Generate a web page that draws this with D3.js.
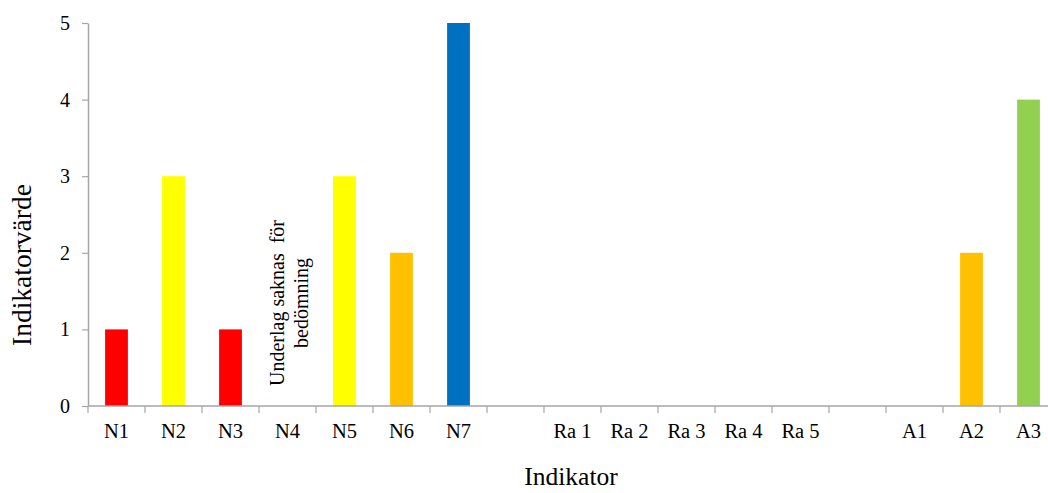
<!DOCTYPE html>
<html>
<head>
<meta charset="utf-8">
<script src="https://cdn.jsdelivr.net/npm/d3@7"></script>
<style>
  html, body { margin: 0; padding: 0; background: #fff; overflow: hidden; }
  svg { display: block; }
  text { font-family: "Liberation Serif", "Times New Roman", serif; fill: #000; }
</style>
</head>
<body>
<svg id="chart" width="1048" height="493"></svg>
<script>
const categories = ["N1","N2","N3","N4","N5","N6","N7","","Ra 1","Ra 2","Ra 3","Ra 4","Ra 5","","A1","A2","A3"];
const values     = [1, 3, 1, null, 3, 2, 5, null, null, null, null, null, null, null, null, 2, 4];
const barColors  = ["#FF0000","#FFFF00","#FF0000",null,"#FFFF00","#FFC000","#0070C0",null,null,null,null,null,null,null,null,"#FFC000","#92D050"];
const yTicks     = [0, 1, 2, 3, 4, 5];
const noteLines  = ["Underlag saknas  för", "bedömning"];
const noteIndex  = 3;

const svg = d3.select("#chart");
const mLeft = 88, mRight = 1057, mTop = 23, mBottom = 406;

const x = d3.scaleBand()
  .domain(d3.range(categories.length))
  .range([mLeft, mRight])
  .paddingInner(0.6)
  .paddingOuter(0.3);

const y = d3.scaleLinear().domain([0, 5]).range([mBottom, mTop]);

// bars
svg.append("g").selectAll("rect")
  .data(values.map((v, i) => ({v, i})).filter(d => d.v != null))
  .join("rect")
  .attr("x", d => x(d.i))
  .attr("width", x.bandwidth())
  .attr("y", d => y(d.v))
  .attr("height", d => y(0) - y(d.v))
  .attr("fill", d => barColors[d.i]);

// y axis
const yAxis = svg.append("g")
  .attr("transform", `translate(${mLeft},0)`)
  .call(d3.axisLeft(y).tickValues(yTicks).tickFormat(d3.format("d")).tickSize(6).tickSizeOuter(0).tickPadding(12));
yAxis.select(".domain").attr("stroke", "#a6a6a6").attr("stroke-width", 1.5);
yAxis.selectAll(".tick line").attr("stroke", "#a6a6a6").attr("stroke-width", 1.2);
yAxis.selectAll(".tick text").attr("font-size", 20).attr("font-family", "Liberation Serif, serif").attr("fill", "#000");

// x axis
const step = x.step();
const xAxisG = svg.append("g").attr("transform", `translate(0,${mBottom})`);
xAxisG.append("line")
  .attr("x1", mLeft).attr("x2", mRight)
  .attr("stroke", "#a6a6a6").attr("stroke-width", 1.5);
xAxisG.selectAll("line.tk")
  .data(d3.range(categories.length + 1))
  .join("line")
  .attr("class", "tk")
  .attr("x1", i => mLeft + i * step).attr("x2", i => mLeft + i * step)
  .attr("y1", 0).attr("y2", 7)
  .attr("stroke", "#a6a6a6").attr("stroke-width", 1.2);
xAxisG.selectAll("text.lbl")
  .data(categories.map((c, i) => ({c, i})))
  .join("text")
  .attr("class", "lbl")
  .attr("x", d => x(d.i) + x.bandwidth() / 2)
  .attr("y", 32)
  .attr("text-anchor", "middle")
  .attr("font-size", 20.5)
  .text(d => d.c);

// annotation
const note = svg.append("text")
  .attr("transform", `translate(${x(noteIndex) + x.bandwidth() / 2},303) rotate(-90)`)
  .attr("text-anchor", "middle")
  .attr("font-size", 20);
note.selectAll("tspan")
  .data(noteLines)
  .join("tspan")
  .attr("x", 0)
  .attr("y", (d, i) => -4 + i * 24)
  .attr("xml:space", "preserve")
  .style("white-space", "pre")
  .text(d => d);

// axis titles
svg.append("text")
  .attr("transform", `translate(31,265) rotate(-90)`)
  .attr("text-anchor", "middle")
  .attr("font-size", 27.5)
  .text("Indikatorvärde");

svg.append("text")
  .attr("x", 571).attr("y", 485)
  .attr("text-anchor", "middle")
  .attr("font-size", 25.5)
  .text("Indikator");
</script>
</body>
</html>
